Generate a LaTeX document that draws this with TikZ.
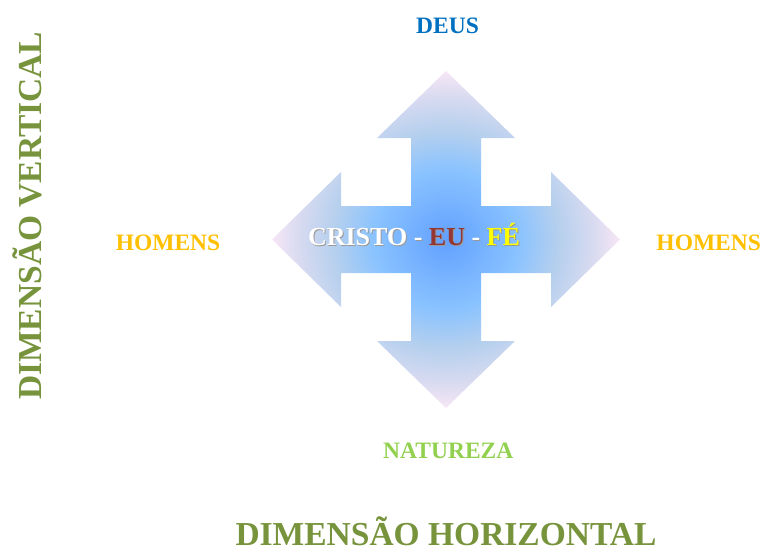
\documentclass[tikz,border=0pt]{standalone}
\usepackage{fontspec}
\setmainfont{Liberation Serif}
\usetikzlibrary{positioning}

\definecolor{deusblue}{HTML}{0070C0}
\definecolor{homengold}{HTML}{FFC000}
\definecolor{natgreen}{HTML}{92D050}
\definecolor{dimgreen}{HTML}{77933C}
\definecolor{eured}{HTML}{943634}
\definecolor{feyellow}{HTML}{FFFF00}
\definecolor{glowA}{HTML}{62A0FF}
\definecolor{glowB}{HTML}{8AC3FF}
\definecolor{glowC}{HTML}{B4CFEE}
\definecolor{glowD}{HTML}{D6DAF0}
\definecolor{glowE}{HTML}{F7E6F6}

\pgfdeclareradialshading{crossglow}{\pgfpoint{0bp}{0bp}}{color(0bp)=(glowA); color(10.5bp)=(glowB); color(16bp)=(glowC); color(21bp)=(glowD); color(25bp)=(glowE); color(50bp)=(glowE)}

\tikzstyle{lbl} = [font=\bfseries\fontsize{23.5}{28}\selectfont, anchor=base, inner sep=0pt]
\tikzstyle{dim} = [font=\bfseries\fontsize{33.5}{40}\selectfont, anchor=base, inner sep=0pt, text=dimgreen]
\tikzstyle{core} = [font=\bfseries\fontsize{26}{30}\selectfont, anchor=base, inner sep=0pt]

\begin{document}
\begin{tikzpicture}[x=1pt,y=-1pt]
\useasboundingbox (0,0) rectangle (765,551);

% four-way arrow
\shade[shading=crossglow] (446,71) -- (515,138) -- (481,138) -- (481,206) -- (551,206) -- (551,172)
  -- (620,239.5) -- (551,307) -- (551,273) -- (481,273) -- (481,341) -- (515,341)
  -- (446,408) -- (377,341) -- (411,341) -- (411,273) -- (341,273) -- (341,307)
  -- (272,239.5) -- (341,172) -- (341,206) -- (411,206) -- (411,138) -- (377,138) -- cycle;

\node[core, text=black!40] (shadow) at (415,246) {CRISTO - EU - FÉ};
\node[core] (cristo) at (414,245) {\textcolor{white}{CRISTO -} \textcolor{eured}{EU} \textcolor{white}{-} \textcolor{feyellow}{FÉ}};

\node[lbl, text=deusblue] (deus) at (447.5,34) {DEUS};
\node[lbl, text=natgreen] (natureza) at (448.3,458.3) {NATUREZA};
\node[lbl, text=homengold] (homensL) at (168,250) {HOMENS};
\node[lbl, text=homengold] (homensR) at (708.7,250) {HOMENS};

\node[dim] (horiz) at (446,545) {DIMENSÃO HORIZONTAL};
\node[dim, rotate=90] (vert) at (41.7,215.8) {DIMENSÃO VERTICAL};

\end{tikzpicture}
\end{document}
